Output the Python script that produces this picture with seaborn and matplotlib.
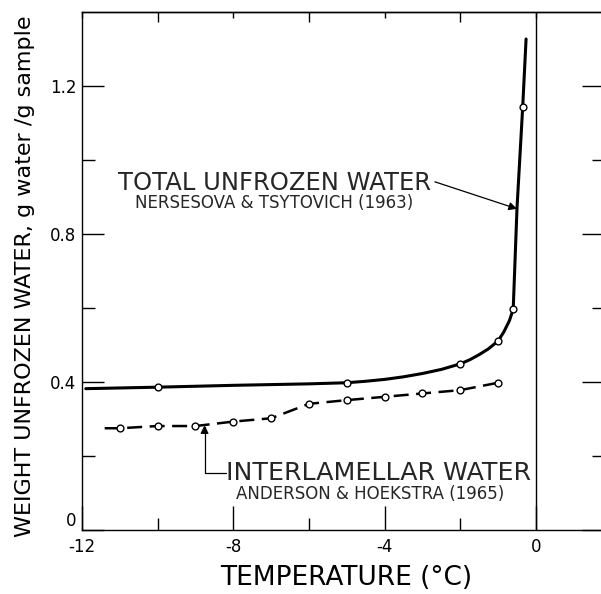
import matplotlib
matplotlib.use("Agg")
import matplotlib.pyplot as plt
import seaborn as sns
import pandas as pd
from matplotlib.ticker import FixedLocator, FuncFormatter

# ---- data ----
total_marker_t = [-10, -5, -2, -1, -0.6, -0.35]
total_marker_w = [0.386, 0.397, 0.449, 0.511, 0.597, 1.142]

total_curve_t = [-11.9, -10, -8, -6, -5, -4.5, -4, -3.5, -3, -2.5, -2, -1.75, -1.5, -1.25,
                 -1, -0.85, -0.7, -0.6, -0.5, -0.35, -0.26]
total_curve_w = [0.382, 0.386, 0.391, 0.395, 0.398, 0.402, 0.407, 0.414, 0.423, 0.434, 0.449,
                 0.460, 0.474, 0.490, 0.511, 0.535, 0.566, 0.597, 0.87, 1.142, 1.327]

inter_marker_t = [-11, -10, -9, -8, -7, -6, -5, -4, -3, -2, -1]
inter_marker_w = [0.275, 0.281, 0.281, 0.293, 0.302, 0.341, 0.351, 0.360, 0.369, 0.378, 0.398]

inter_curve_t = [-11.4] + inter_marker_t
inter_curve_w = [0.275] + inter_marker_w

x_major = [-12, -8, -4, 0]
x_minor = [-10, -6, -2]
y_major = [0, 0.4, 0.8, 1.2]
y_minor = [0.2, 0.6, 1.0]

sns.set_theme(style="ticks")
plt.rcParams["font.family"] = ["DejaVu Sans"]
plt.rcParams["axes.unicode_minus"] = False

W, H = 601, 594
fig = plt.figure(figsize=(W / 100, H / 100), dpi=100)
left, right_px, top_px, bottom_px = 82, 604, 12, 530
ax = fig.add_axes([left / W, (H - bottom_px) / H, (right_px - left) / W, (bottom_px - top_px) / H])

df_tc = pd.DataFrame({"t": total_curve_t, "w": total_curve_w})
df_tm = pd.DataFrame({"t": total_marker_t, "w": total_marker_w})
df_ic = pd.DataFrame({"t": inter_curve_t, "w": inter_curve_w})
df_im = pd.DataFrame({"t": inter_marker_t, "w": inter_marker_w})

sns.lineplot(data=df_tc, x="t", y="w", ax=ax, color="black", lw=2.2, sort=False, estimator=None)
sns.lineplot(data=df_ic, x="t", y="w", ax=ax, color="black", lw=1.8, sort=False, estimator=None,
             linestyle=(0, (6, 3)))
sns.scatterplot(data=df_tm, x="t", y="w", ax=ax, marker="o", s=24, facecolor="white",
                edgecolor="black", linewidth=1.0, zorder=5)
sns.scatterplot(data=df_im, x="t", y="w", ax=ax, marker="o", s=24, facecolor="white",
                edgecolor="black", linewidth=1.0, zorder=5)

ax.axvline(0, color="black", lw=1.0)

ax.set_xlim(-12, 1.8)
ax.set_ylim(0, 1.4)
ax.xaxis.set_major_locator(FixedLocator(x_major))
ax.xaxis.set_minor_locator(FixedLocator(x_minor))
ax.yaxis.set_major_locator(FixedLocator(y_major))
ax.yaxis.set_minor_locator(FixedLocator(y_minor))
ax.yaxis.set_major_formatter(FuncFormatter(lambda v, p: "0" if v == 0 else f"{v:.1f}"))
ax.xaxis.set_major_formatter(FuncFormatter(lambda v, p: f"{int(v)}"))

for s in ax.spines.values():
    s.set_visible(True)
    s.set_linewidth(1.0)
    s.set_color("black")

ax.tick_params(which="both", direction="in", top=False, right=True, color="black", width=1.0,
               labelsize=12, labelcolor="black")
ax.tick_params(axis="x", which="major", length=17, pad=6)
ax.tick_params(axis="x", which="minor", length=9)
ax.tick_params(axis="y", which="major", length=16, pad=4)
ax.tick_params(axis="y", which="minor", length=9)

sec = ax.secondary_xaxis("top")
sec.xaxis.set_major_locator(FixedLocator(x_major))
sec.xaxis.set_minor_locator(FixedLocator(x_minor))
sec.tick_params(which="both", direction="in", labeltop=False, color="black", width=1.0)
sec.tick_params(which="major", length=4)
sec.tick_params(which="minor", length=7)
sec.spines["top"].set_linewidth(1.0)
sec.spines["top"].set_color("black")

# lift the "0" y tick label a bit, as in the reference
ax.yaxis.get_major_ticks()[0].label1.set_va("bottom")

ax.set_xlabel("TEMPERATURE (°C)", fontsize=19, color="black")
ax.set_ylabel("WEIGHT UNFROZEN WATER, g water /g sample", fontsize=16, color="black")
ax.xaxis.set_label_coords(0.506, -0.068)
ax.yaxis.set_label_coords(-0.09, 0.489)

# annotations
ax.text(-6.92, 0.938, "TOTAL UNFROZEN WATER", fontsize=17.5, ha="center", va="center")
ax.text(-6.92, 0.884, "NERSESOVA & TSYTOVICH (1963)", fontsize=12, ha="center", va="center")
ax.annotate("", xy=(-0.50, 0.868), xytext=(-2.67, 0.941),
            arrowprops=dict(arrowstyle="-|>", color="black", lw=0.9, shrinkA=0, shrinkB=0,
                            mutation_scale=12))

ax.text(-4.17, 0.154, "INTERLAMELLAR WATER", fontsize=18.2, ha="center", va="center")
ax.text(-4.37, 0.098, "ANDERSON & HOEKSTRA (1965)", fontsize=12, ha="center", va="center")
ax.annotate("", xy=(-8.76, 0.283), xytext=(-8.2, 0.154),
            arrowprops=dict(arrowstyle="-|>", color="black", lw=0.9, shrinkA=0, shrinkB=0,
                            mutation_scale=12,
                            connectionstyle="angle,angleA=180,angleB=90,rad=0"))

fig.savefig("out.png", dpi=100)
